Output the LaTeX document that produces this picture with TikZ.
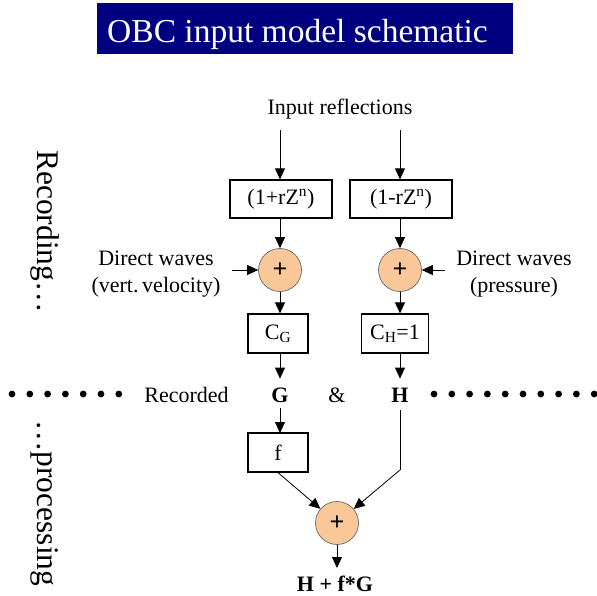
\documentclass[tikz,border=0pt]{standalone}
\usepackage{fontspec}
\setmainfont{Liberation Serif}
\usetikzlibrary{arrows.meta}
\definecolor{navy}{RGB}{0,0,128}
\definecolor{sumfill}{RGB}{250,200,152}
\begin{document}
\begin{tikzpicture}[x=1pt,y=-1pt,
  txt/.style={font=\fontsize{22}{27}\selectfont, inner sep=0pt},
  box/.style={draw, line width=1.2pt, minimum width=#1, minimum height=38pt, inner sep=0pt, font=\fontsize{22}{26}\selectfont},
  sum/.style={circle, draw=black!60, line width=0.7pt, fill=sumfill, minimum size=43pt, inner sep=0pt, font=\fontsize{26}{26}\selectfont\bfseries},
  conn/.style={line width=0.8pt, -{Triangle[length=11pt,width=10pt]}},
  plainline/.style={line width=0.8pt},
  vtext/.style={font=\fontsize{31.5}{34}\selectfont, inner sep=0pt, rotate=-90, anchor=base west}]
\useasboundingbox (0,0) rectangle (597,596);

% title
\node[fill=navy, minimum width=416pt, minimum height=51pt, inner sep=0pt] (title) at (305,28.5) {};
\node[font=\fontsize{33.5}{36}\selectfont, text=white, inner sep=0pt, anchor=base] (titletxt) at (297.5,43) {OBC input model schematic};

% vertical labels
\node[vtext] (rec) at (37,150) {Recording…};
\node[vtext] (proc) at (37,420) {…processing};

% top
\node[txt, anchor=base] (inp) at (340,115) {Input reflections};
\coordinate (i1) at (280,130);
\coordinate (i2) at (400,130);

\node[box=102pt] (b1) at (281,199) {(1+rZ\textsuperscript{n})};
\node[box=102pt] (b2) at (401,199) {(1-rZ\textsuperscript{n})};

\node[sum] (c1) at (280,270) {+};
\node[sum] (c2) at (400,270) {+};

\node[txt, align=center] (dw1) at (156,274.5) {Direct waves\\(vert.\,velocity)};
\node[txt, align=center] (dw2) at (514,274.5) {Direct waves\\(pressure)};
\coordinate (d1) at (232,270);
\coordinate (d2) at (445,270);

\node[box=60pt, minimum height=39pt] (cg) at (278,333.5) {C\textsubscript{G}};
\node[box=67pt, minimum height=39pt] (ch) at (395,333.5) {C\textsubscript{H}=1};

% recorded line
\node[txt, anchor=base] (recd) at (186.5,402) {Recorded};
\node[txt, anchor=base, font=\fontsize{22}{27}\selectfont\bfseries] (G) at (280,402) {G};
\node[txt, anchor=base] (amp) at (337,402) {\&};
\node[txt, anchor=base, font=\fontsize{22}{27}\selectfont\bfseries] (H) at (400,402) {H};

\foreach \k in {0,...,6} \fill ({12+17.8*\k},394) circle (3.4pt);
\foreach \k in {0,...,9} \fill ({434+17.8*\k},394) circle (3.4pt);

% processing
\node[box=60pt, minimum height=39pt] (f) at (278,452.5) {f};
\node[sum] (c3) at (337,523) {+};
\coordinate (hb) at (400,470);
\coordinate (e3) at (337,568);
\node[txt, anchor=base, font=\fontsize{22}{27}\selectfont\bfseries] (out) at (335,591.5) {H + f*G};

% connectors
\draw[conn] (i1) -- (i1 |- b1.north);
\draw[conn] (i2) -- (i2 |- b2.north);
\draw[conn] (b1.south -| c1) -- (c1.north);
\draw[conn] (b2.south -| c2) -- (c2.north);
\draw[conn] (d1) -- (c1.west);
\draw[conn] (d2) -- (c2.east);
\draw[conn] (c1.south) -- (c1.south |- cg.north);
\draw[conn] (c2.south) -- (c2.south |- ch.north);
\draw[conn] (cg.south -| c1) -- ++(0,25);
\draw[conn] (ch.south -| c2) -- ++(0,25);
\draw[conn] (280,408) -- (280,433);
\draw[conn] (f.south) -- (c3);
\draw[plainline] (400,410) -- (hb);
\draw[conn] (hb) -- (c3);
\draw[conn] (c3.south) -- (e3);
\end{tikzpicture}
\end{document}
